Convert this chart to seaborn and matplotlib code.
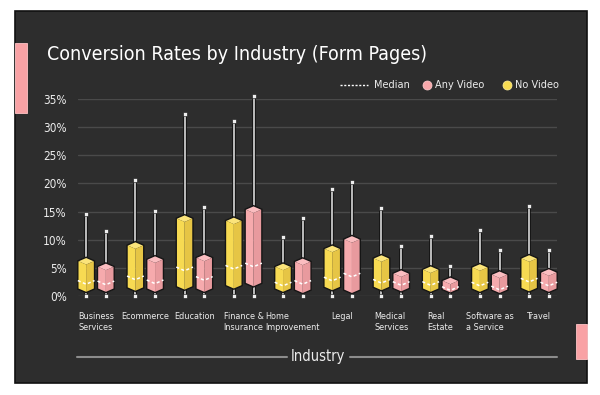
import numpy as np
import pandas as pd
import matplotlib
matplotlib.use("Agg")
import matplotlib.pyplot as plt
import seaborn as sns
from matplotlib.patches import Polygon, Rectangle
from matplotlib.lines import Line2D
import matplotlib.patheffects as pe
from matplotlib import font_manager as fm

# ---------------- data ----------------
industries = ["Business\nServices", "Ecommerce", "Education", "Finance &\nInsurance",
              "Home\nImprovement", "Legal", "Medical\nServices", "Real\nEstate",
              "Software as\na Service", "Travel"]
series = ["No Video", "Any Video"]

no_video_min = [0, 0, 0, 0, 0, 0, 0, 0, 0, 0]
no_video_q1 = [1.2, 1.4, 1.6, 1.8, 1.2, 1.5, 1.5, 1.2, 1.2, 1.3]
no_video_med = [2.7, 3.5, 5.1, 5.4, 2.4, 3.3, 2.9, 2.5, 2.4, 3.1]
no_video_q3 = [6.2, 9.0, 13.8, 13.4, 5.2, 8.4, 6.7, 4.7, 5.1, 6.7]
no_video_max = [14.5, 20.6, 32.4, 31.1, 10.5, 19.1, 15.6, 10.7, 11.7, 16.0]

any_video_min = [0, 0, 0, 0, 0, 0, 0, 0, 0, 0]
any_video_q1 = [1.2, 1.2, 1.2, 2.2, 1.0, 1.0, 1.3, 1.1, 1.0, 1.2]
any_video_med = [2.6, 2.8, 3.4, 5.8, 2.7, 4.0, 2.5, 1.6, 1.7, 2.4]
any_video_q3 = [5.2, 6.5, 6.8, 15.4, 6.1, 10.1, 4.0, 2.7, 3.8, 4.2]
any_video_max = [11.6, 15.1, 15.8, 35.6, 13.8, 20.2, 8.9, 5.3, 8.1, 8.1]

y_ticks = [0, 5, 10, 15, 20, 25, 30, 35]
y_tick_labels = [f"{v}%" for v in y_ticks]

rows = []
for i, ind in enumerate(industries):
    rows.append(dict(idx=i, industry=ind, series="No Video", mn=no_video_min[i], q1=no_video_q1[i],
                     med=no_video_med[i], q3=no_video_q3[i], mx=no_video_max[i]))
    rows.append(dict(idx=i, industry=ind, series="Any Video", mn=any_video_min[i], q1=any_video_q1[i],
                     med=any_video_med[i], q3=any_video_q3[i], mx=any_video_max[i]))
df = pd.DataFrame(rows)

# ---------------- style ----------------
sns.set_theme(style="dark")
names = {f.name for f in fm.fontManager.ttflist}
cond = [f for f in fm.fontManager.ttflist if f.name == "DejaVu Sans" and f.stretch == "condensed"]
if "Liberation Sans Narrow" in names:
    FAM = ["Liberation Sans Narrow", "DejaVu Sans"]
    STRETCH = "normal"
else:
    FAM = ["DejaVu Sans"]
    STRETCH = "condensed" if cond else "normal"
plt.rcParams["font.family"] = FAM
plt.rcParams["font.stretch"] = STRETCH

W, H = 600, 395
def fx(x): return x / W
def fy(y): return 1 - y / H

BG = "#2d2d2d"
TXT = "#ececec"
colors = {
    "No Video": dict(top="#fbe47a", left="#f7da52", right="#e6c545", dot="#f7dc52"),
    "Any Video": dict(top="#fbbdc0", left="#f6aaad", right="#e89a9e", dot="#f7a8ab"),
}
offsets = {"No Video": -0.2, "Any Video": 0.2}

fig = plt.figure(figsize=(6, 3.95), dpi=100)
fig.patch.set_facecolor("white")
fig.add_artist(Rectangle((fx(15), fy(383)), (587 - 15) / W, (383 - 11) / H,
                         transform=fig.transFigure, facecolor=BG, edgecolor="#111111",
                         lw=1.2, zorder=-2))
fig.add_artist(Rectangle((fx(15), fy(113)), 12 / W, 70 / H, transform=fig.transFigure,
                         facecolor="#f9a2a5", edgecolor="#ffc4c6", lw=0.6, zorder=-1))
fig.add_artist(Rectangle((fx(576), fy(359)), 11 / W, 35 / H, transform=fig.transFigure,
                         facecolor="#f9a2a5", edgecolor="#ffc4c6", lw=0.6, zorder=-1))

ax = fig.add_axes([fx(78), fy(295.7), (557 - 78) / W, (295.7 - 99.3) / H])
ax.set_facecolor("none")
ax.set_xlim(-0.366, 9.366)
ax.set_ylim(0, 35)
for s in ax.spines.values():
    s.set_visible(False)
ax.yaxis.grid(True, color="#4a4a4a", lw=1.0)
ax.xaxis.grid(False)
ax.set_axisbelow(True)
ax.set_yticks(y_ticks)
ax.set_yticklabels(y_tick_labels, color=TXT, fontsize=8.5)
ax.tick_params(axis="y", length=0, pad=8)
ax.set_xticks(range(len(industries)))
ax.set_xticklabels(industries, color=TXT, fontsize=6.5, multialignment="left", va="top")
ax.tick_params(axis="x", length=0, pad=12)

hw = 0.17   # half width of prism (x units)
d = 0.65    # isometric tip height (y units)
outline = [pe.Stroke(linewidth=2.6, foreground="#111111"), pe.Normal()]

for _, r in df.iterrows():
    c = r.idx + offsets[r.series]
    l, rt = c - hw, c + hw
    col = colors[r.series]
    ax.plot([c, c], [r.q3 + d, r.mx], color="#d9d9d9", lw=1.2, zorder=2,
            solid_capstyle="butt", path_effects=outline, clip_on=False)
    ax.plot([c, c], [r.mn, r.q1 - d], color="#d9d9d9", lw=1.2, zorder=2,
            solid_capstyle="butt", path_effects=outline, clip_on=False)
    ax.add_patch(Polygon([(c, r.q3 + d), (rt, r.q3), (c, r.q3 - d), (l, r.q3)],
                         closed=True, facecolor=col["top"], edgecolor="none", zorder=3, clip_on=False))
    ax.add_patch(Polygon([(l, r.q3), (c, r.q3 - d), (c, r.q1 - d), (l, r.q1)],
                         closed=True, facecolor=col["left"], edgecolor="none", zorder=3, clip_on=False))
    ax.add_patch(Polygon([(c, r.q3 - d), (rt, r.q3), (rt, r.q1), (c, r.q1 - d)],
                         closed=True, facecolor=col["right"], edgecolor="none", zorder=3, clip_on=False))
    ax.add_patch(Polygon([(c, r.q3 + d), (rt, r.q3), (rt, r.q1), (c, r.q1 - d), (l, r.q1), (l, r.q3)],
                         closed=True, facecolor="none", edgecolor="#151515", lw=1.0, zorder=4, clip_on=False))
    ax.plot([l, c, rt], [r.med, r.med - d, r.med], color="white", lw=1.1,
            dashes=(2, 1.6), zorder=5, clip_on=False)

caps = pd.concat([
    df.assign(xpos=df.idx + df.series.map(offsets), ypos=df.mx),
    df.assign(xpos=df.idx + df.series.map(offsets), ypos=df.mn),
])
sns.scatterplot(data=caps, x="xpos", y="ypos", ax=ax, marker="s", s=5, color="#eeeeee",
                edgecolor="#111111", linewidth=0.4, zorder=6, clip_on=False, legend=False)
ax.set_xlabel("")
ax.set_ylabel("")

fig.text(fx(47), fy(55), "Conversion Rates by Industry (Form Pages)", color="white",
         fontsize=14, va="center", ha="left")

ly = fy(85)
fig.add_artist(Line2D([fx(340), fx(368)], [ly, ly], color="white", lw=1.0, dashes=(1.5, 1.2),
                      transform=fig.transFigure))
fig.text(fx(374), ly, "Median", color=TXT, fontsize=7.8, va="center", ha="left")
fig.add_artist(Line2D([fx(427)], [ly], marker="o", markersize=6.5, color=colors["Any Video"]["dot"],
                      markeredgecolor="#ffd0d2", markeredgewidth=0.5, transform=fig.transFigure))
fig.text(fx(435), ly, "Any Video", color=TXT, fontsize=7.8, va="center", ha="left")
fig.add_artist(Line2D([fx(507)], [ly], marker="o", markersize=6.5, color=colors["No Video"]["dot"],
                      markeredgecolor="#fff0a0", markeredgewidth=0.5, transform=fig.transFigure))
fig.text(fx(515), ly, "No Video", color=TXT, fontsize=7.8, va="center", ha="left")

iy = fy(357)
fig.text(fx(318), iy, "Industry", color=TXT, fontsize=10.5, va="center", ha="center")
fig.add_artist(Line2D([fx(77), fx(287)], [iy, iy], color="#8c8c8c", lw=1.5, transform=fig.transFigure))
fig.add_artist(Line2D([fx(350), fx(557)], [iy, iy], color="#8c8c8c", lw=1.5, transform=fig.transFigure))

fig.savefig("out.png", dpi=100, facecolor="white")
